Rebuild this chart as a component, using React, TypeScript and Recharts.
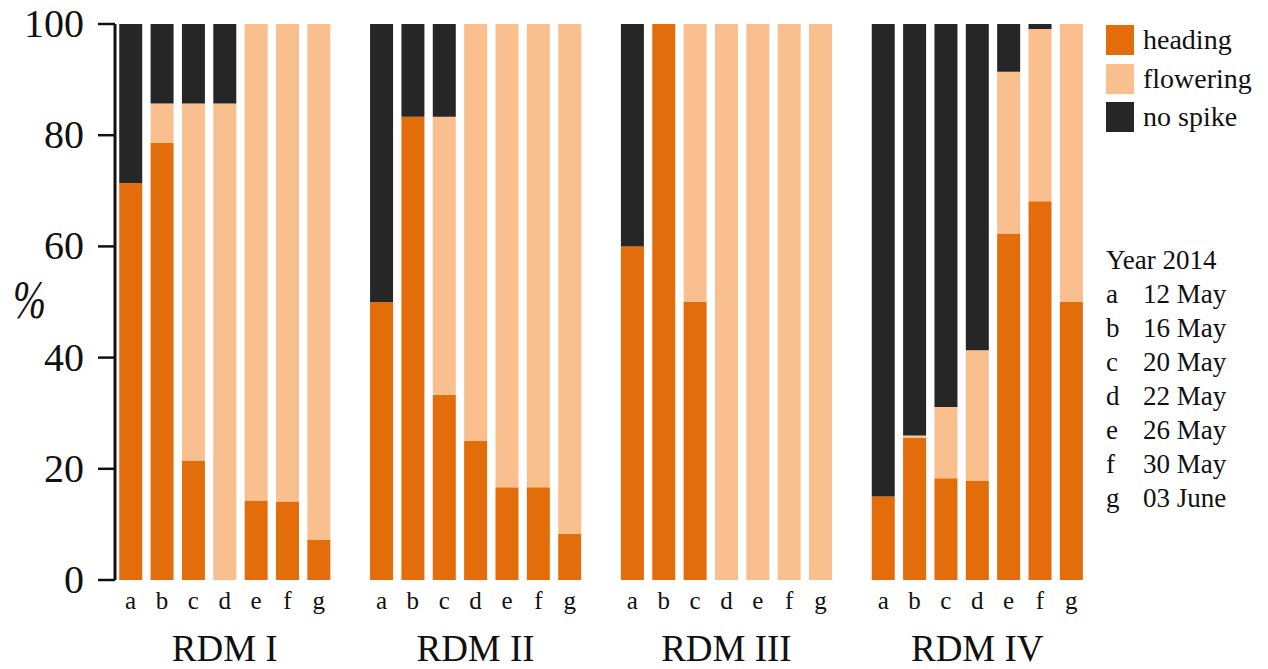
import { BarChart, Bar, XAxis, YAxis } from 'recharts';

const letters = ['a', 'b', 'c', 'd', 'e', 'f', 'g'];
const groups = ['RDM I', 'RDM II', 'RDM III', 'RDM IV'];
const dates = ['12 May', '16 May', '20 May', '22 May', '26 May', '30 May', '03 June'];
const yTicks = [0, 20, 40, 60, 80, 100];

// one row of values per panel, a..g
const heading = [
   [71.4, 78.6, 21.4, 0, 14.3, 14.1, 7.2],
   [50, 83.3, 33.3, 25, 16.7, 16.7, 8.3],
   [60, 100, 50, 0, 0, 0, 0],
   [15, 25.6, 18.3, 17.8, 62.3, 68.1, 50]
];
const flowering = [
   [0, 7.1, 64.3, 85.7, 85.7, 85.9, 92.8],
   [0, 0, 50, 75, 83.3, 83.3, 91.7],
   [0, 0, 50, 100, 100, 100, 100],
   [0, 0.4, 12.8, 23.5, 29.1, 31, 50]
];
const noSpike = [
   [28.6, 14.3, 14.3, 14.3, 0, 0, 0],
   [50, 16.7, 16.7, 0, 0, 0, 0],
   [40, 0, 0, 0, 0, 0, 0],
   [85, 74, 68.9, 58.7, 8.6, 0.9, 0]
];

const COLORS = {
   heading: '#e36c0b',
   flowering: '#f9bf8f',
   noSpike: '#262626'
};
const FONT = "'Liberation Serif', 'Times New Roman', serif";

type Row = {
   key: string;
   letter: string;
   group?: string;
   heading?: number;
   flowering?: number;
   noSpike?: number;
};

const data: Row[] = [];
groups.forEach((group, g) => {
   if (g > 0) data.push({ key: `gap${g}`, letter: '' });
   letters.forEach((letter, i) => {
      data.push({
         key: `${group}-${letter}`,
         letter,
         group: i === 3 ? group : undefined,
         heading: heading[g][i],
         flowering: flowering[g][i],
         noSpike: noSpike[g][i]
      });
   });
});

const LetterTick = (props: any) => {
   const { x, y, payload } = props;
   const row = data.find(d => d.key === payload.value);
   if (!row) return null;
   return (
      <g>
         <text x={x} y={y} dy={21} textAnchor="middle" fontSize={25} fill="#111" style={{ fontFamily: FONT }}>
            {row.letter}
         </text>
         {row.group && (
            <text x={x} y={y} dy={73} textAnchor="middle" fontSize={37} fill="#111" style={{ fontFamily: FONT }}>
               {row.group}
            </text>
         )}
      </g>
   );
};

const ValueTick = (props: any) => {
   const { x, y, payload } = props;
   return (
      <text x={x} y={y} dy={13} textAnchor="end" fontSize={40} fill="#111" style={{ fontFamily: FONT }}>
         {payload.value}
      </text>
   );
};

const PercentLabel = (props: any) => {
   const { viewBox } = props;
   return (
      <text
         x={viewBox.x + 13}
         y={viewBox.y + viewBox.height / 2}
         dy={16}
         fontSize={54}
         fontStyle="italic"
         textLength={33}
         lengthAdjust="spacingAndGlyphs"
         fill="#111"
         style={{ fontFamily: FONT }}>
         %
      </text>
   );
};

const legendItems = [
   { name: 'heading', color: COLORS.heading },
   { name: 'flowering', color: COLORS.flowering },
   { name: 'no spike', color: COLORS.noSpike }
];

export default function App() {
   return (
      <div
         style={{
            position: 'absolute',
            left: 0,
            top: 0,
            width: 1268,
            height: 669,
            background: '#fff',
            fontFamily: FONT
         }}>
         <BarChart
            width={1268}
            height={669}
            data={data}
            margin={{ top: 24, right: 181, bottom: 0, left: 0 }}
            barCategoryGap="13.5%">
            <XAxis
               dataKey="key"
               axisLine={false}
               tickLine={false}
               interval={0}
               height={89}
               tick={<LetterTick />}
            />
            <YAxis
               domain={[0, 100]}
               ticks={yTicks}
               width={115}
               tickSize={17}
               tickMargin={14}
               axisLine={{ stroke: '#111', strokeWidth: 3 }}
               tickLine={{ stroke: '#111', strokeWidth: 2.5 }}
               tick={<ValueTick />}
               label={<PercentLabel />}
            />
            <Bar dataKey="heading" stackId="s" fill={COLORS.heading} isAnimationActive={false} />
            <Bar dataKey="flowering" stackId="s" fill={COLORS.flowering} isAnimationActive={false} />
            <Bar dataKey="noSpike" stackId="s" fill={COLORS.noSpike} isAnimationActive={false} />
         </BarChart>

         <div style={{ position: 'absolute', left: 1106, top: 21, fontSize: 28, color: '#111', fontFamily: FONT }}>
            {legendItems.map(item => (
               <div key={item.name} style={{ display: 'flex', alignItems: 'center', height: 38.5 }}>
                  <div style={{ width: 28, height: 30, background: item.color, marginRight: 9 }} />
                  <span style={{ fontFamily: FONT }}>{item.name}</span>
               </div>
            ))}
         </div>

         <div
            style={{
               position: 'absolute',
               left: 1106,
               top: 243,
               fontSize: 27,
               lineHeight: '34px',
               color: '#111',
               fontFamily: FONT
            }}>
            <div>Year 2014</div>
            {letters.map((l, i) => (
               <div key={l} style={{ display: 'flex' }}>
                  <span style={{ width: 37 }}>{l}</span>
                  <span>{dates[i]}</span>
               </div>
            ))}
         </div>
      </div>
   );
}
